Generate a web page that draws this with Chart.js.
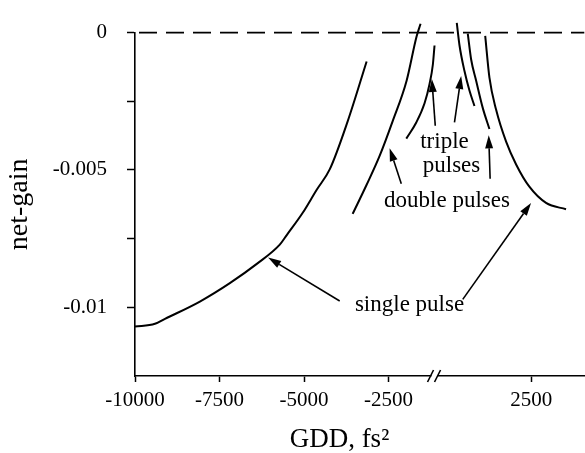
<!DOCTYPE html>
<html>
<head>
<meta charset="utf-8">
<script src="https://cdn.jsdelivr.net/npm/chart.js@4"></script>
<style>
  html, body { margin: 0; padding: 0; background: #fff; }
  #wrap { width: 585px; height: 453px; }
</style>
</head>
<body>
<div id="wrap"><canvas id="c"></canvas></div>
<script>
// GDD axis is broken in two: left part on 'x', right part on 'x2'
const leftMin = -10000, leftMax = -1142;
const rightMin = -364, rightMax = 4065;
const leftTicks = [-10000, -7500, -5000, -2500];
const rightTicks = [2500];
const yTicks = [0, -0.0025, -0.005, -0.0075, -0.01];
const yMajor = [0, -0.005, -0.01];

// curves left of the break
const singleLeftX = [-10000, -9409, -9114, -8081, -7195, -6398, -5719, -5512, -5040, -4626, -4242, -3711, -3150];
const singleLeftY = [-0.0107, -0.0106, -0.01042, -0.00979, -0.00912, -0.00842, -0.00772, -0.00737, -0.00656, -0.00572, -0.00498, -0.00323, -0.00105];
const doubleLeftX = [-3563, -3150, -2766, -2382, -1968, -1673, -1555];
const doubleLeftY = [-0.0066, -0.00554, -0.00449, -0.00323, -0.00175, -0.00014, 0.00032];
const tripleLeftX = [-1977, -1682, -1437, -1289, -1192, -1142];
const tripleLeftY = [-0.00386, -0.00327, -0.00257, -0.00187, -0.00117, -0.00047];

// curves right of the break
const tripleRightX = [294, 374, 522, 669, 817];
const tripleRightY = [0.00035, -0.00046, -0.0014, -0.00211, -0.00267];
const doubleRightX = [619, 719, 867, 1062, 1260];
const doubleRightY = [-0.00004, -0.00098, -0.00175, -0.00274, -0.00351];
const singleRightX = [1135, 1260, 1458, 1753, 2049, 2441, 2934, 3525];
const singleRightY = [-0.00012, -0.00164, -0.00281, -0.00397, -0.0048, -0.00561, -0.0062, -0.00643];

// annotations, in data units of the given x axis
const notes = [
  {text: 'triple', axis: 'x2', x: -69, y: -0.00421},
  {text: 'pulses', axis: 'x2', x: 138, y: -0.00509},
  {text: 'double pulses', axis: 'x2', x: 5, y: -0.00635},
  {text: 'single pulse', axis: 'x2', x: -1103, y: -0.01014}
];
const arrows = [
  {axis: 'x', from: [-1120, -0.00339], to: [-1221, -0.00169]},
  {axis: 'x2', from: [226, -0.00327], to: [424, -0.00158]},
  {axis: 'x', from: [-2125, -0.0055], to: [-2470, -0.00421]},
  {axis: 'x2', from: [1280, -0.00532], to: [1239, -0.00374]},
  {axis: 'x', from: [-3946, -0.00977], to: [-6064, -0.00819]},
  {axis: 'x2', from: [471, -0.00971], to: [2491, -0.0062]}
];

const pts = (xs, ys) => xs.map((x, i) => ({x, y: ys[i]}));
const FONT = "'Liberation Serif', 'Times New Roman', serif";

Chart.defaults.font.family = FONT;
Chart.defaults.font.size = 21;
Chart.defaults.color = '#000';

function curve(label, xs, ys, axis) {
  return {
    label, data: pts(xs, ys), xAxisID: axis,
    borderColor: '#000', borderWidth: 2, pointRadius: 0,
    cubicInterpolationMode: 'monotone', fill: false, clip: false
  };
}

function drawArrow(ctx, x0, y0, x1, y1) {
  const a = Math.atan2(y1 - y0, x1 - x0), L = 13, W = 4;
  const bx = x1 - L * Math.cos(a), by = y1 - L * Math.sin(a);
  ctx.beginPath();
  ctx.moveTo(x0, y0);
  ctx.lineTo(bx, by);
  ctx.stroke();
  ctx.beginPath();
  ctx.moveTo(x1, y1);
  ctx.lineTo(bx + W * Math.sin(a), by - W * Math.cos(a));
  ctx.lineTo(bx - W * Math.sin(a), by + W * Math.cos(a));
  ctx.closePath();
  ctx.fill();
}

const decor = {
  id: 'decor',
  beforeDatasetsDraw(chart) {
    const {ctx, chartArea: a, scales} = chart;
    const py = scales.y.getPixelForValue(0);
    ctx.save();
    ctx.strokeStyle = '#000';
    ctx.lineWidth = 1.6;
    ctx.setLineDash([18, 9]);
    ctx.lineDashOffset = 23;
    ctx.beginPath();
    ctx.moveTo(a.left, py);
    ctx.lineTo(a.right, py);
    ctx.stroke();
    ctx.restore();
  },
  afterDraw(chart) {
    const {ctx, chartArea: a, scales} = chart;
    const y = scales.y;
    ctx.save();
    ctx.strokeStyle = '#000';
    ctx.fillStyle = '#000';
    ctx.lineWidth = 1.6;

    // axis break mark
    const bx = scales.x.right, by = a.bottom;
    ctx.fillStyle = '#fff';
    ctx.fillRect(bx - 3, by - 3, 6, 6);
    ctx.fillStyle = '#000';
    [-4, 3].forEach(d => {
      ctx.beginPath();
      ctx.moveTo(bx + d - 3, by + 6);
      ctx.lineTo(bx + d + 3, by - 6);
      ctx.stroke();
    });

    arrows.forEach(ar => {
      const sx = scales[ar.axis];
      drawArrow(ctx,
        sx.getPixelForValue(ar.from[0]), y.getPixelForValue(ar.from[1]),
        sx.getPixelForValue(ar.to[0]), y.getPixelForValue(ar.to[1]));
    });

    ctx.font = '23px ' + FONT;
    ctx.textAlign = 'center';
    ctx.textBaseline = 'alphabetic';
    notes.forEach(n => {
      ctx.fillText(n.text, scales[n.axis].getPixelForValue(n.x), y.getPixelForValue(n.y));
    });

    // x axis title spans both parts of the broken axis
    ctx.font = '27px ' + FONT;
    ctx.fillText('GDD, fs\u00B2', a.left + a.width * 0.455, 447);
    ctx.restore();
  }
};

function xAxis(min, max, ticks) {
  return {
    type: 'linear', position: 'bottom', stack: 'gdd', stackWeight: max - min,
    min, max,
    afterBuildTicks: s => { s.ticks = ticks.map(v => ({value: v})); },
    afterFit: s => { s.height = 77; },
    ticks: {callback: v => String(v), padding: 6, maxRotation: 0, autoSkip: false},
    grid: {drawOnChartArea: false, tickLength: 6, tickColor: '#000', tickWidth: 1.5},
    border: {color: '#000', width: 1.6}
  };
}

new Chart(document.getElementById('c'), {
  type: 'line',
  data: {
    datasets: [
      curve('single pulse', singleLeftX, singleLeftY, 'x'),
      curve('double pulses', doubleLeftX, doubleLeftY, 'x'),
      curve('triple pulses', tripleLeftX, tripleLeftY, 'x'),
      curve('triple pulses', tripleRightX, tripleRightY, 'x2'),
      curve('double pulses', doubleRightX, doubleRightY, 'x2'),
      curve('single pulse', singleRightX, singleRightY, 'x2')
    ]
  },
  options: {
    responsive: true,
    maintainAspectRatio: false,
    animation: false,
    layout: {padding: {top: 20, left: 0, right: 0, bottom: 0}},
    plugins: {legend: {display: false}, tooltip: {enabled: false}},
    scales: {
      x: xAxis(leftMin, leftMax, leftTicks),
      x2: xAxis(rightMin, rightMax, rightTicks),
      y: {
        type: 'linear', min: -0.0125, max: 0,
        afterBuildTicks: s => { s.ticks = yTicks.map(v => ({value: v})); },
        afterFit: s => { s.width = 135; },
        ticks: {callback: v => yMajor.includes(v) ? String(v) : '', padding: 20},
        grid: {drawOnChartArea: false, tickLength: 8, tickColor: '#000', tickWidth: 1.5},
        border: {color: '#000', width: 1.6},
        title: {display: true, text: 'net-gain', font: {size: 28}, padding: {top: 3, bottom: 0}}
      }
    }
  },
  plugins: [decor]
});
</script>
</body>
</html>
